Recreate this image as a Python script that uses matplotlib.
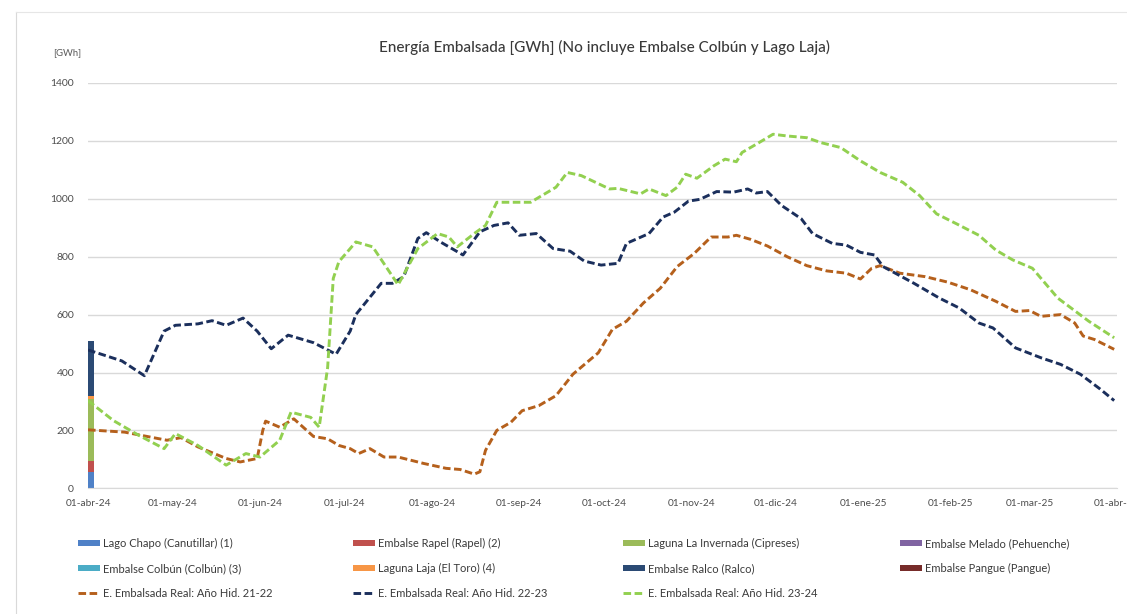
import numpy as np
import pandas as pd
import matplotlib
matplotlib.use("Agg")
import matplotlib.pyplot as plt
from matplotlib.patches import Patch
from matplotlib.lines import Line2D

plt.rcParams['font.family'] = ['Lato', 'DejaVu Sans']

inicio = pd.Timestamp('2024-04-01')

# embalses en la barra del 01-abr-24 [GWh]
embalses = ['Lago Chapo (Canutillar) (1)', 'Embalse Rapel (Rapel) (2)',
            'Laguna La Invernada (Cipreses)', 'Embalse Melado (Pehuenche)',
            'Embalse Colbún (Colbún) (3)', 'Laguna Laja (El Toro) (4)',
            'Embalse Ralco (Ralco)', 'Embalse Pangue (Pangue)']
energia_embalses = [57, 38, 214, 0, 0, 10, 190, 0]
colores_embalses = ['#4f81c7', '#c0504d', '#9bbb59', '#8064a2',
                    '#4bacc6', '#f79646', '#2b4a74', '#772c2a']

# E. Embalsada Real: Año Hid. 21-22 (días desde 01-abr)
dias_21 = [0, 13, 21, 28, 33, 39, 49, 54, 60, 62, 63, 68, 73, 80, 85, 89, 93, 96, 100, 105,
           110, 119, 127, 132, 137, 139, 141, 145, 150, 154, 160, 166, 172, 181, 186, 191, 197, 203, 209, 215,
           221, 227, 230, 235, 241, 248, 255, 262, 269, 274, 278, 281, 288, 297, 305, 313, 322, 329, 334, 338,
           345, 350, 353, 357, 364]
ee_21 = [202, 194, 179, 166, 175, 143, 103, 91, 103, 200, 232, 211, 240, 179, 171, 148, 137, 120, 137, 108,
         108, 86, 69, 65, 49, 57, 131, 200, 228, 268, 286, 320, 394, 468, 549, 577, 640, 691, 766, 811,
         868, 868, 874, 860, 837, 800, 769, 751, 743, 723, 760, 769, 743, 731, 712, 686, 646, 611, 614, 594,
         600, 571, 526, 514, 480]

# E. Embalsada Real: Año Hid. 22-23
dias_22 = [0, 12, 20, 27, 31, 39, 44, 49, 55, 60, 65, 71, 80, 88, 93, 95, 104, 108, 112, 117,
           120, 125, 133, 139, 144, 149, 153, 159, 165, 171, 176, 182, 188, 191, 199, 204, 208, 213, 217, 223,
           229, 234, 237, 241, 246, 253, 257, 264, 269, 274, 279, 282, 293, 302, 309, 316, 321, 329, 338, 345,
           352, 359, 364]
ee_22 = [478, 440, 389, 543, 563, 568, 579, 563, 588, 543, 482, 529, 503, 463, 543, 600, 708, 708, 731, 863,
         883, 851, 806, 886, 908, 917, 874, 880, 828, 819, 785, 771, 777, 846, 880, 937, 954, 992, 998, 1025,
         1023, 1034, 1020, 1025, 977, 931, 880, 846, 840, 815, 806, 766, 708, 657, 623, 571, 554, 485, 451, 428,
         394, 343, 303]

# E. Embalsada Real: Año Hid. 23-24
dias_23 = [0, 9, 18, 27, 31, 39, 49, 56, 61, 68, 72, 79, 82, 85, 87, 89, 93, 95, 101, 110,
           117, 124, 128, 131, 137, 141, 145, 151, 157, 166, 170, 175, 185, 188, 196, 199, 205, 209, 212, 216,
           222, 226, 230, 232, 238, 243, 248, 255, 260, 267, 274, 281, 289, 295, 301, 308, 316, 322, 328, 335,
           344, 348, 355, 364]
ee_23 = [303, 234, 183, 137, 189, 148, 80, 120, 108, 166, 263, 245, 211, 417, 725, 783, 828, 851, 834, 703,
         828, 880, 868, 834, 880, 908, 988, 988, 988, 1040, 1091, 1080, 1034, 1036, 1017, 1034, 1011, 1040, 1085, 1071,
         1114, 1137, 1128, 1160, 1194, 1223, 1217, 1211, 1194, 1177, 1131, 1091, 1057, 1011, 948, 914, 874, 823, 789, 760,
         657, 628, 577, 520]

meses = ['01-abr-24', '01-may-24', '01-jun-24', '01-jul-24', '01-ago-24', '01-sep-24',
         '01-oct-24', '01-nov-24', '01-dic-24', '01-ene-25', '01-feb-25', '01-mar-25', '01-abr-25']


def fechas(dias):
    return inicio + pd.to_timedelta(np.array(dias), unit='D')


fig = plt.figure(figsize=(11.27, 6.14), dpi=100)
ax = fig.add_axes([88 / 1127, 1 - 488.3 / 614, (1117 - 88) / 1127, (488.3 - 83) / 614])

# barra apilada
base = 0
barras = []
for nombre, val, col in zip(embalses, energia_embalses, colores_embalses):
    ax.bar(inicio, val, width=2, bottom=base, color=col, align='edge', zorder=2)
    barras.append(Patch(facecolor=col, label=nombre))
    base += val

estilo = (0, (2.6, 1.2))
l21, = ax.plot(fechas(dias_21), ee_21, color='#b5601c', lw=2.1, ls=estilo, zorder=3,
               label='E. Embalsada Real: Año Hid. 21-22')
l22, = ax.plot(fechas(dias_22), ee_22, color='#1b2f5c', lw=2.1, ls=estilo, zorder=3,
               label='E. Embalsada Real: Año Hid. 22-23')
l23, = ax.plot(fechas(dias_23), ee_23, color='#92d050', lw=2.1, ls=estilo, zorder=3,
               label='E. Embalsada Real: Año Hid. 23-24')

ax.set_ylim(0, 1400)
ax.set_yticks(np.arange(0, 1401, 200))
ax.set_xlim(inicio, pd.Timestamp('2025-04-01'))
ax.set_xticks(pd.date_range('2024-04-01', '2025-04-01', freq='MS'))
ax.set_xticklabels(meses)
ax.grid(axis='y', color='#d9d9d9', lw=1)
ax.set_axisbelow(True)
for s in ['top', 'right', 'left']:
    ax.spines[s].set_visible(False)
ax.spines['bottom'].set_color('#d9d9d9')
ax.tick_params(axis='both', length=0, colors='#4d4d4d')
ax.tick_params(axis='y', labelsize=7.5, pad=10)
ax.tick_params(axis='x', labelsize=7.3, pad=8)

fig.text(604 / 1127, 1 - 47 / 614, 'Energía Embalsada [GWh] (No incluye Embalse Colbún y Lago Laja)',
         ha='center', va='center', fontsize=11, color='#3a3a3a', fontweight='medium')
fig.text(53 / 1127, 1 - 53 / 614, '[GWh]', ha='left', va='center', fontsize=6.8, color='#595959')

# leyenda en 4 columnas
columnas = [[barras[0], barras[4], l21], [barras[1], barras[5], l22],
            [barras[2], barras[6], l23], [barras[3], barras[7]]]
xs = [78, 353, 623, 900]
for hs, x in zip(columnas, xs):
    fig.legend(handles=hs, loc='upper left', bbox_to_anchor=(x / 1127, 1 - 538 / 614),
               frameon=False, fontsize=8, handlelength=2.0, handleheight=0.55,
               handletextpad=0.25, labelspacing=1.25, borderaxespad=0, borderpad=0,
               labelcolor='#3a3a3a')

# borde del área del gráfico
fig.add_artist(Line2D([16 / 1127, 16 / 1127], [0, 1 - 12 / 614], color='#d9d9d9', lw=0.8))
fig.add_artist(Line2D([16 / 1127, 1], [1 - 12 / 614, 1 - 12 / 614], color='#e6e6e6', lw=0.8))

fig.savefig('out.png', dpi=100)
